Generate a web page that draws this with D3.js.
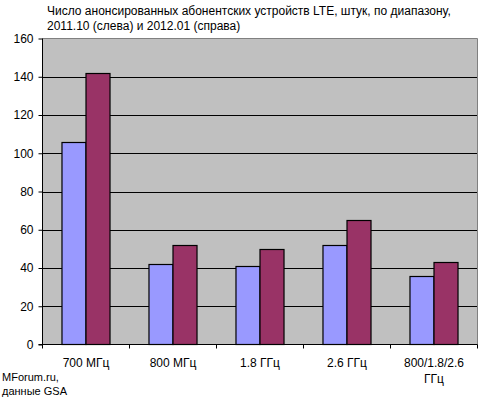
<!DOCTYPE html>
<html lang="ru">
<head>
<meta charset="UTF-8">
<title>LTE devices by band</title>
<script src="https://cdn.jsdelivr.net/npm/d3@7"></script>
<style>
  body { margin: 0; background: #fff; }
  text { font-family: "Liberation Sans", Arial, sans-serif; fill: #000; }
</style>
</head>
<body>
<script type="text/javascript">
  // data
  var bands = ["700 МГц", "800 МГц", "1.8 ГГц", "2.6 ГГц", "800/1.8/2.6 ГГц"];
  var oct2011 = [106, 42, 41, 52, 36];
  var jan2012 = [142, 52, 50, 65, 43];
  var series = ["2011.10", "2012.01"];
  var yTicks = [0, 20, 40, 60, 80, 100, 120, 140, 160];
  var colors = ["#9999FF", "#993366"];

  var w = 490, h = 399;
  // plot area edges (not "top", that one belongs to window)
  var pL = 42.5, pR = 477.5, pT = 38.5, pB = 344.5;

  var svg = d3.select("body").append("svg")
    .attr("width", w)
    .attr("height", h);

  var x0 = d3.scaleBand()
    .domain(bands)
    .range([pL, pR])
    .paddingInner(0.448)
    .paddingOuter(0.224);

  var x1 = d3.scaleBand()
    .domain(series)
    .range([0, x0.bandwidth()]);

  var y = d3.scaleLinear()
    .domain([0, 160])
    .range([pB, pT]);

  // plot area
  svg.append("rect")
    .attr("x", pL).attr("y", pT)
    .attr("width", pR - pL).attr("height", pB - pT)
    .attr("fill", "#C0C0C0");

  // gridlines
  svg.selectAll(".grid")
    .data(yTicks.slice(1, -1))
    .enter().append("line")
    .attr("x1", pL).attr("x2", pR)
    .attr("y1", function(d) { return Math.round(y(d)) + 0.5; })
    .attr("y2", function(d) { return Math.round(y(d)) + 0.5; })
    .attr("stroke", "#000").attr("stroke-width", 1);

  // plot border (top, right)
  svg.append("path")
    .attr("d", "M" + pL + "," + pT + "H" + pR + "V" + pB)
    .attr("fill", "none").attr("stroke", "#808080");

  // bars
  var rows = bands.map(function(b, i) { return { band: b, vals: [oct2011[i], jan2012[i]] }; });
  var groups = svg.selectAll(".grp")
    .data(rows)
    .enter().append("g")
    .attr("transform", function(d) { return "translate(" + x0(d.band) + ",0)"; });

  groups.selectAll("rect")
    .data(function(d) { return d.vals.map(function(v, j) { return { s: series[j], v: v, j: j }; }); })
    .enter().append("rect")
    .attr("x", function(d) { return x1(d.s); })
    .attr("y", function(d) { return Math.round(y(d.v)) + 0.5; })
    .attr("width", x1.bandwidth())
    .attr("height", function(d) { return pB - Math.round(y(d.v)) - 0.5; })
    .attr("fill", function(d) { return colors[d.j]; })
    .attr("stroke", "#000").attr("stroke-width", 1.2);

  // y axis
  var yAxis = svg.append("g")
    .attr("transform", "translate(" + pL + ",0)")
    .call(d3.axisLeft(y).tickValues(yTicks).tickSize(4).tickPadding(5));
  yAxis.select(".domain").attr("d", "M0," + pT + "V" + pB).attr("stroke", "#000");
  yAxis.selectAll("line").attr("stroke", "#000");
  yAxis.selectAll("text").style("font-size", "12px").style("font-family", "Liberation Sans, Arial, sans-serif");

  // x axis with ticks at category boundaries
  svg.append("line")
    .attr("x1", pL - 4).attr("x2", pR)
    .attr("y1", pB).attr("y2", pB)
    .attr("stroke", "#000");
  var step = x0.step();
  var start = x0(bands[0]) - x0.paddingOuter() * step;
  svg.selectAll(".xt")
    .data(d3.range(bands.length + 1))
    .enter().append("line")
    .attr("x1", function(i) { return start + i * step; })
    .attr("x2", function(i) { return start + i * step; })
    .attr("y1", pB).attr("y2", pB + 4)
    .attr("stroke", "#000");

  var xl = svg.selectAll(".xl")
    .data(bands)
    .enter().append("text")
    .attr("x", function(d) { return x0(d) + x0.bandwidth() / 2; })
    .attr("y", 367)
    .attr("text-anchor", "middle")
    .style("font-size", "12px");
  xl.each(function(d) {
    var parts = d.indexOf("/") >= 0 ? d.split(" ") : [d];
    var t = d3.select(this);
    parts.forEach(function(p, k) {
      t.append("tspan")
        .attr("x", t.attr("x"))
        .attr("dy", k === 0 ? 0 : 16)
        .text(p);
    });
  });

  // title
  svg.append("text")
    .attr("x", 47).attr("y", 15)
    .style("font-size", "12px")
    .text("Число анонсированных абонентских устройств LTE, штук, по диапазону,");
  svg.append("text")
    .attr("x", 47).attr("y", 30)
    .style("font-size", "12px")
    .text("2011.10 (слева) и 2012.01 (справа)");

  // source
  svg.append("text")
    .attr("x", 2).attr("y", 381)
    .style("font-size", "11px")
    .text("MForum.ru,");
  svg.append("text")
    .attr("x", 2).attr("y", 395)
    .style("font-size", "11px")
    .text("данные GSA");
</script>
</body>
</html>
